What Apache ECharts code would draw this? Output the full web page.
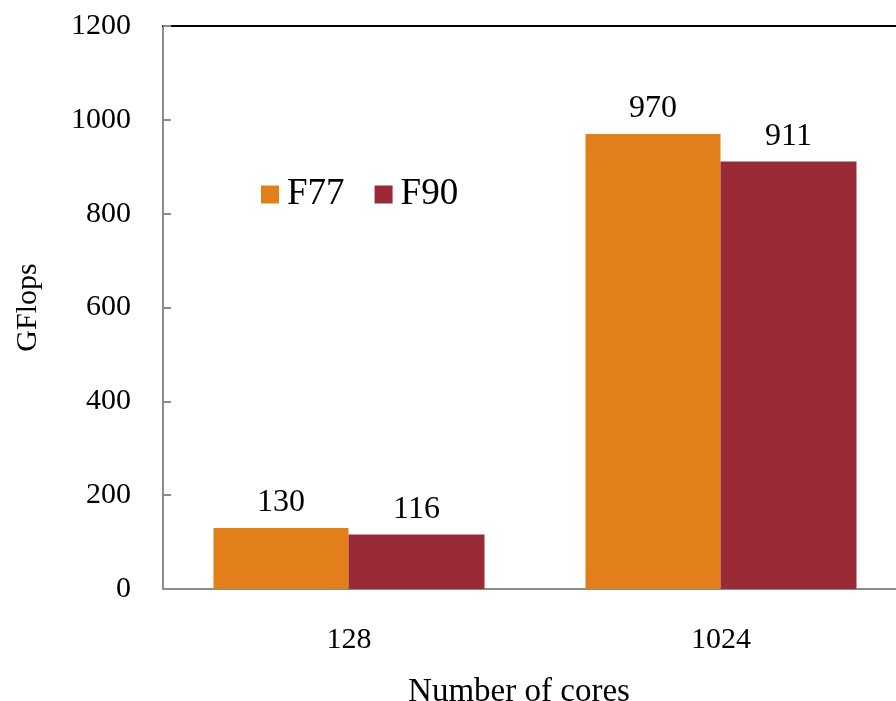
<!DOCTYPE html>
<html>
<head>
<meta charset="utf-8">
<script src="https://cdn.jsdelivr.net/npm/echarts@6/dist/echarts.min.js"></script>
<style>
  html, body { margin: 0; padding: 0; background: #fff; }
  #chart { width: 896px; height: 701px; }
</style>
</head>
<body>
<div id="chart"></div>
<script>
// Core counts on the x axis and measured GFlops per compiler dialect
const categories = ['128', '1024'];
const f77Values = [130, 970];
const f90Values = [116, 911];
const yTicks = [0, 200, 400, 600, 800, 1000, 1200];

const FONT = '"Liberation Serif", "DejaVu Serif", serif';
const AXIS_GRAY = '#8c8c8c';

const chart = echarts.init(document.getElementById('chart'));

chart.setOption({
  animation: false,
  backgroundColor: '#ffffff',
  textStyle: { fontFamily: FONT, color: '#000' },
  legend: {
    left: 256,
    top: 171,
    itemWidth: 18,
    itemHeight: 18,
    itemGap: 30,
    icon: 'rect',
    textStyle: { fontFamily: FONT, fontSize: 37, color: '#000', padding: [0, 0, 0, 3] },
    data: ['F77', 'F90']
  },
  grid: { left: 163, top: 26, width: 744, height: 563, outerBoundsMode: 'none', containLabel: false },
  xAxis: [
    {
      type: 'category',
      data: categories,
      position: 'bottom',
      name: 'Number of cores',
      nameLocation: 'middle',
      nameGap: 87,
      nameTextStyle: { fontFamily: FONT, fontSize: 33, color: '#000', padding: [0, 32, 0, 0] },
      axisLine: { lineStyle: { color: AXIS_GRAY, width: 2 } },
      axisTick: { show: false },
      axisLabel: { fontFamily: FONT, fontSize: 30, color: '#000', margin: 36 }
    },
    {
      // top border of the plotting area
      type: 'category',
      data: categories,
      position: 'top',
      axisLine: { lineStyle: { color: '#000', width: 2 } },
      axisTick: { show: false },
      axisLabel: { show: false }
    }
  ],
  yAxis: {
    type: 'value',
    min: yTicks[0],
    max: yTicks[yTicks.length - 1],
    interval: yTicks[1] - yTicks[0],
    name: 'GFlops',
    nameLocation: 'middle',
    nameGap: 120,
    nameTextStyle: { fontFamily: FONT, fontSize: 30, color: '#000' },
    axisLine: { show: true, lineStyle: { color: AXIS_GRAY, width: 2 } },
    axisTick: { show: true, inside: true, length: 8, lineStyle: { color: AXIS_GRAY, width: 2 } },
    axisLabel: {
      fontFamily: FONT, fontSize: 30, color: '#000', margin: 32,
      formatter: (v) => String(v)
    },
    splitLine: { show: false }
  },
  series: [
    {
      name: 'F77',
      type: 'bar',
      data: f77Values,
      barWidth: 135,
      barGap: '0%',
      itemStyle: { color: '#e27f1a' },
      label: { show: true, position: 'top', distance: 9, fontFamily: FONT, fontSize: 32, color: '#000' }
    },
    {
      name: 'F90',
      type: 'bar',
      data: f90Values,
      barWidth: 136,
      barGap: '0%',
      itemStyle: { color: '#9a2a36' },
      label: { show: true, position: 'top', distance: 9, fontFamily: FONT, fontSize: 32, color: '#000' }
    }
  ]
});
</script>
</body>
</html>
